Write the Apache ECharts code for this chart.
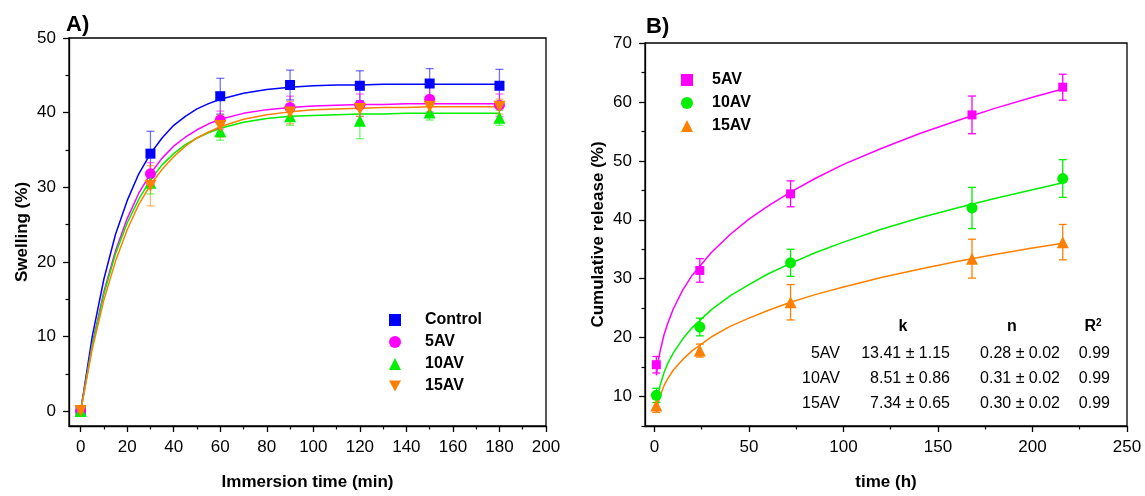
<!DOCTYPE html>
<html><head><meta charset="utf-8">
<script src="https://cdn.jsdelivr.net/npm/echarts@6/dist/echarts.min.js"></script>
<style>html,body{margin:0;padding:0;background:#fff}#c{width:1145px;height:496px}</style>
</head><body><div id="c"></div>
<script>
// ---------- Panel A data ----------
const timeA = [0, 30, 60, 90, 120, 150, 180];
const controlA = [0, 34.5, 42.2, 43.7, 43.6, 43.9, 43.6];
const controlErrA = [0, 3.0, 2.4, 2.0, 2.0, 2.0, 2.2];
const av5A = [0, 31.8, 39.0, 40.7, 41.0, 41.8, 41.0];
const av5ErrA = [0, 1.5, 1.2, 1.5, 1.5, 1.7, 1.5];
const av10A = [0, 30.6, 37.5, 39.5, 38.9, 40.0, 39.3];
const av10ErrA = [0, 1.5, 1.2, 1.2, 2.4, 1.0, 1.0];
const av15A = [0, 30.2, 38.2, 40.0, 40.5, 40.8, 40.8];
const av15ErrA = [0, 2.7, 1.5, 1.5, 1.0, 1.0, 1.0];
// fitted curves, values
const fitTimeA = [0, 5, 10, 15, 20, 25, 30, 35, 40, 45, 50, 55, 60, 70, 80, 90, 100, 110, 120, 130, 140, 150, 160, 170, 180];
const controlFitA = [0, 10.0, 17.7, 23.7, 28.2, 31.8, 34.5, 36.6, 38.3, 39.5, 40.5, 41.2, 41.8, 42.6, 43.1, 43.4, 43.6, 43.7, 43.7, 43.8, 43.8, 43.8, 43.8, 43.8, 43.8];
const av5FitA = [0, 9.0, 16.0, 21.5, 25.8, 29.2, 31.8, 33.9, 35.5, 36.7, 37.7, 38.5, 39.1, 39.9, 40.4, 40.7, 40.9, 41.0, 41.1, 41.1, 41.2, 41.2, 41.2, 41.2, 41.2];
const av10FitA = [0, 8.8, 15.7, 21.1, 25.2, 28.4, 31.0, 33.0, 34.5, 35.7, 36.6, 37.3, 37.9, 38.7, 39.2, 39.5, 39.6, 39.7, 39.8, 39.8, 39.9, 39.9, 39.9, 39.9, 39.9];
const av15FitA = [0, 8.3, 14.9, 20.1, 24.3, 27.7, 30.3, 32.4, 34.1, 35.5, 36.6, 37.4, 38.1, 39.1, 39.7, 40.1, 40.4, 40.5, 40.6, 40.7, 40.7, 40.8, 40.8, 40.8, 40.8];
const xTicksA = [0, 20, 40, 60, 80, 100, 120, 140, 160, 180, 200];
const xMinorA = [10, 30, 50, 70, 90, 110, 130, 150, 170, 190];
const yTicksA = [0, 10, 20, 30, 40, 50];
const yMinorA = [5, 15, 25, 35, 45];

// ---------- Panel B data ----------
const timeB = [1, 24, 72, 168, 216];
const av5B = [15.4, 31.4, 44.4, 57.8, 62.5];
const av5ErrB = [1.4, 2.0, 2.2, 3.2, 2.2];
const av10B = [10.2, 21.8, 32.7, 42.0, 47.0];
const av10ErrB = [1.2, 1.5, 2.3, 3.5, 3.2];
const av15B = [8.5, 17.8, 26.0, 33.4, 36.2];
const av15ErrB = [1.2, 1.1, 3.0, 3.3, 3.0];
const fitTimeB = [1, 2, 3, 5, 7, 10, 15, 20, 30, 40, 50, 60, 72, 85, 100, 120, 140, 160, 180, 200, 216];
const av5FitB = [13.6, 16.0, 17.7, 20.4, 22.4, 24.9, 28.1, 30.6, 34.4, 37.5, 40.1, 42.3, 44.7, 47.0, 49.4, 52.1, 54.6, 56.8, 58.9, 60.8, 62.2];
const av10FitB = [8.4, 10.5, 11.9, 14.0, 15.6, 17.4, 19.8, 21.7, 24.7, 27.1, 29.0, 30.8, 32.6, 34.4, 36.2, 38.4, 40.3, 42.0, 43.6, 45.1, 46.3];
const av15FitB = [7.3, 9.0, 10.1, 11.8, 13.0, 14.5, 16.3, 17.8, 20.1, 21.9, 23.3, 24.6, 26.0, 27.3, 28.6, 30.2, 31.6, 32.9, 34.1, 35.2, 36.0];
const xTicksB = [0, 50, 100, 150, 200, 250];
const xMinorB = [25, 75, 125, 175, 225];
const yTicksB = [10, 20, 30, 40, 50, 60, 70];
const yMinorB = [5, 15, 25, 35, 45, 55, 65];
const tableRows = [
  ['5AV', '13.41 ± 1.15', '0.28 ± 0.02', '0.99'],
  ['10AV', '8.51 ± 0.86', '0.31 ± 0.02', '0.99'],
  ['15AV', '7.34 ± 0.65', '0.30 ± 0.02', '0.99']
];

const FONT = 'Liberation Sans, Arial, sans-serif';
const C_BLUE = '#0000ff', C_MAG = '#ff00ff', C_GRN = '#00ee00', C_ORG = '#ff8000';
const DOWN_TRI = 'path://M0,0 L10,0 L5,9 Z';

const zip = (xs, ys) => xs.map((x, i) => [x, ys[i]]);
const zipErr = (xs, ys, es) => xs.map((x, i) => [x, ys[i] - es[i], ys[i] + es[i]]);

function errSeries(xi, yi, data, color, opacity) {
  return {
    type: 'custom', xAxisIndex: xi, yAxisIndex: yi, z: 3, silent: true,
    data: data,
    renderItem: function (params, api) {
      const x = api.value(0), lo = api.value(1), hi = api.value(2);
      if (hi - lo < 0.01) return null;
      const p1 = api.coord([x, lo]), p2 = api.coord([x, hi]);
      const w = 4;
      const st = { stroke: color, lineWidth: 1.3, opacity: opacity };
      return {
        type: 'group', children: [
          { type: 'line', shape: { x1: p1[0], y1: p1[1], x2: p2[0], y2: p2[1] }, style: st },
          { type: 'line', shape: { x1: p1[0] - w, y1: p1[1], x2: p1[0] + w, y2: p1[1] }, style: st },
          { type: 'line', shape: { x1: p2[0] - w, y1: p2[1], x2: p2[0] + w, y2: p2[1] }, style: st }
        ]
      };
    }
  };
}
function fitSeries(xi, yi, data, color) {
  return {
    type: 'line', xAxisIndex: xi, yAxisIndex: yi, data: data, showSymbol: false, symbol: 'none',
    smooth: false, silent: true, z: 2,
    lineStyle: { color: color, width: 1.5, join: 'round' }
  };
}
function ptSeries(name, xi, yi, data, color, symbol, size) {
  return {
    name: name, type: 'scatter', xAxisIndex: xi, yAxisIndex: yi, data: data,
    symbol: symbol, symbolSize: size, itemStyle: { color: color, opacity: 1 }, z: 4
  };
}

const tickLabel = { color: '#000', fontSize: 17, fontFamily: FONT };
const axisNameStyle = { color: '#000', fontSize: 17, fontWeight: 'bold', fontFamily: FONT };

function mainAxis(grid, min, max, ticks, name, nameGap) {
  return {
    type: 'value', gridIndex: grid, min: min, max: max,
    name: name, nameLocation: 'middle', nameGap: nameGap, nameTextStyle: axisNameStyle,
    axisLine: { show: true, onZero: false, lineStyle: { color: '#000', width: 1.3 } },
    axisTick: { show: true, inside: false, length: 6, customValues: ticks, lineStyle: { color: '#000', width: 1.3 } },
    axisLabel: { show: true, customValues: ticks, margin: 13, ...tickLabel },
    splitLine: { show: false }
  };
}
function minorAxis(grid, min, max, ticks, pos) {
  return {
    type: 'value', gridIndex: grid, min: min, max: max, position: pos,
    axisLine: { show: false, onZero: false },
    axisTick: { show: true, inside: false, length: 3.5, customValues: ticks, lineStyle: { color: '#000', width: 1.2 } },
    axisLabel: { show: false }, splitLine: { show: false }
  };
}

const option = {
  animation: false,
  backgroundColor: '#fff',
  grid: [
    { left: 69, top: 38, width: 477, height: 390, show: true, borderColor: '#000', borderWidth: 1.3, backgroundColor: 'transparent' },
    { left: 645, top: 43, width: 482, height: 385, show: true, borderColor: '#000', borderWidth: 1.3, backgroundColor: 'transparent' }
  ],
  xAxis: [
    mainAxis(0, -5, 200, xTicksA, 'Immersion time (min)', 48),
    minorAxis(0, -5, 200, xMinorA, 'bottom'),
    mainAxis(1, -5, 250, xTicksB, 'time (h)', 48),
    minorAxis(1, -5, 250, xMinorB, 'bottom')
  ],
  yAxis: [
    mainAxis(0, -2, 50, yTicksA, 'Swelling (%)', 38),
    minorAxis(0, -2, 50, yMinorA, 'left'),
    mainAxis(1, 5, 70, yTicksB, 'Cumulative release (%)', 38),
    minorAxis(1, 5, 70, yMinorB, 'left')
  ],
  legend: [
    {
      left: 384, top: 307, orient: 'vertical', itemGap: 6, itemWidth: 12, itemHeight: 12,
      data: ['Control', '5AV', '10AV', '15AV'],
      textStyle: { color: '#000', fontSize: 16, fontWeight: 'bold', fontFamily: FONT, padding: [0, 0, 0, 19] },
      selectedMode: false
    },
    {
      left: 676, top: 67, orient: 'vertical', itemGap: 7, itemWidth: 12, itemHeight: 12,
      data: ['B_5AV', 'B_10AV', 'B_15AV'],
      formatter: n => n.replace('B_', ''),
      textStyle: { color: '#000', fontSize: 16, fontWeight: 'bold', fontFamily: FONT, padding: [0, 0, 0, 14] },
      selectedMode: false
    }
  ],
  graphic: [
    { type: 'text', left: 66, top: 14, style: { text: 'A)', font: 'bold 22px ' + FONT, fill: '#000' } },
    { type: 'text', left: 646, top: 16, style: { text: 'B)', font: 'bold 22px ' + FONT, fill: '#000' } },
    { type: 'text', x: 903, y: 327, style: { text: 'k', font: 'bold 16px ' + FONT, fill: '#000', textAlign: 'center', textVerticalAlign: 'middle' } },
    { type: 'text', x: 1012, y: 327, style: { text: 'n', font: 'bold 16px ' + FONT, fill: '#000', textAlign: 'center', textVerticalAlign: 'middle' } },
    { type: 'text', x: 1093, y: 327, style: { text: 'R{s|2}', rich: { s: { fontSize: 10, fontWeight: 'bold', verticalAlign: 'top', padding: [0, 0, 8, 0] } }, font: 'bold 16px ' + FONT, fill: '#000', textAlign: 'center', textVerticalAlign: 'middle' } }
  ].concat(...tableRows.map((r, i) => {
    const y = 354 + i * 25;
    const xs = [840, 950, 1060, 1110];
    return r.map((t, j) => ({ type: 'text', x: xs[j], y: y, style: { text: t, font: '16px ' + FONT, fill: '#000', textAlign: 'right', textVerticalAlign: 'middle' } }));
  })),
  series: [
    // Panel A
    fitSeries(0, 0, zip(fitTimeA, controlFitA), C_BLUE),
    fitSeries(0, 0, zip(fitTimeA, av5FitA), C_MAG),
    fitSeries(0, 0, zip(fitTimeA, av10FitA), C_GRN),
    fitSeries(0, 0, zip(fitTimeA, av15FitA), C_ORG),
    errSeries(0, 0, zipErr(timeA, controlA, controlErrA), C_BLUE, 0.55),
    errSeries(0, 0, zipErr(timeA, av5A, av5ErrA), C_MAG, 0.55),
    errSeries(0, 0, zipErr(timeA, av10A, av10ErrA), C_GRN, 0.55),
    errSeries(0, 0, zipErr(timeA, av15A, av15ErrA), C_ORG, 0.55),
    ptSeries('Control', 0, 0, zip(timeA, controlA), C_BLUE, 'rect', 10),
    ptSeries('5AV', 0, 0, zip(timeA, av5A), C_MAG, 'circle', 11),
    ptSeries('10AV', 0, 0, zip(timeA, av10A), C_GRN, 'triangle', 12),
    ptSeries('15AV', 0, 0, zip(timeA, av15A), C_ORG, DOWN_TRI, 12),
    // Panel B
    fitSeries(2, 2, zip(fitTimeB, av5FitB), C_MAG),
    fitSeries(2, 2, zip(fitTimeB, av10FitB), C_GRN),
    fitSeries(2, 2, zip(fitTimeB, av15FitB), C_ORG),
    errSeries(2, 2, zipErr(timeB, av5B, av5ErrB), C_MAG, 1),
    errSeries(2, 2, zipErr(timeB, av10B, av10ErrB), C_GRN, 1),
    errSeries(2, 2, zipErr(timeB, av15B, av15ErrB), C_ORG, 1),
    ptSeries('B_5AV', 2, 2, zip(timeB, av5B), C_MAG, 'rect', 9),
    ptSeries('B_10AV', 2, 2, zip(timeB, av10B), C_GRN, 'circle', 11),
    ptSeries('B_15AV', 2, 2, zip(timeB, av15B), C_ORG, 'triangle', 12)
  ]
};
const chart = echarts.init(document.getElementById('c'), null, { renderer: 'canvas' });
chart.setOption(option);
</script>
</body></html>
